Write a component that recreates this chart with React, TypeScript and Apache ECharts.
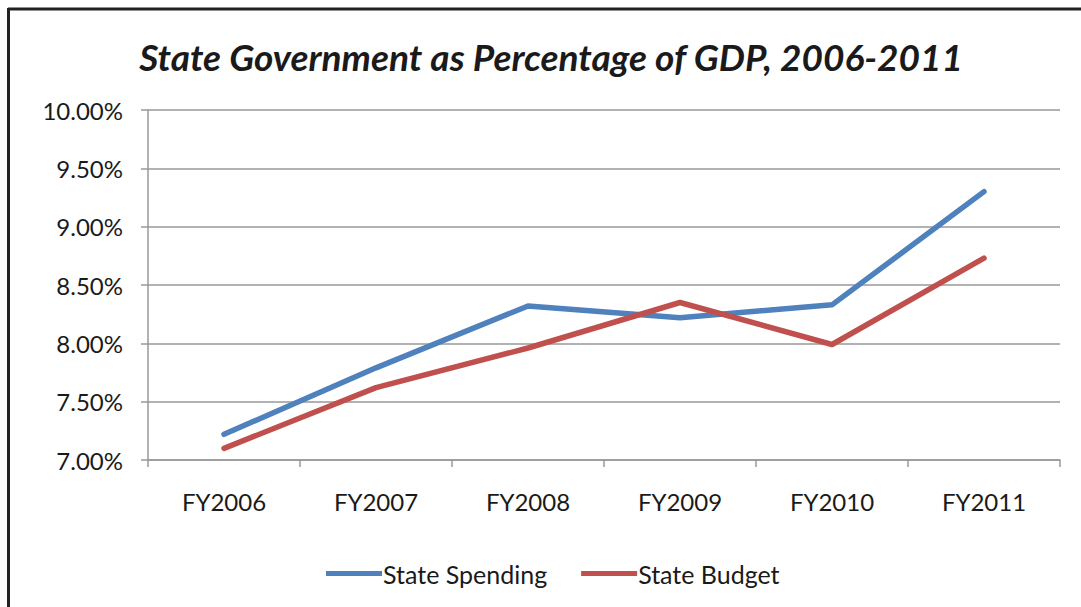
import React, { useEffect, useRef } from "react";
import * as echarts from "echarts";

const categories = ["FY2006", "FY2007", "FY2008", "FY2009", "FY2010", "FY2011"];
const stateSpending = [7.22, 7.79, 8.32, 8.22, 8.33, 9.3];
const stateBudget = [7.1, 7.62, 7.96, 8.35, 7.99, 8.73];
const yTicks = { min: 7, max: 10, interval: 0.5 };

const FONT = "Lato";

export default function App() {
  const ref = useRef<HTMLDivElement>(null);
  useEffect(() => {
    if (!ref.current) return;
    const chart = echarts.init(ref.current, null, { renderer: "svg" });
    chart.setOption({
      animation: false,
      backgroundColor: "#ffffff",
      title: {
        text: "State Government as Percentage of GDP, 2006-2011",
        left: 546,
        textAlign: "center",
        top: 33,
        textStyle: {
          fontFamily: FONT,
          fontSize: 37,
          fontWeight: "bold",
          fontStyle: "italic",
          color: "#1a1a1a",
        },
      },
      grid: { left: 148, right: 21, top: 110, bottom: 147 },
      legend: {
        bottom: 16,
        left: 553,
        align: "left",
        icon: "rect",
        itemWidth: 56,
        itemHeight: 5,
        itemGap: 34,
        textStyle: { fontFamily: FONT, fontSize: 25, color: "#1a1a1a", padding: [0, 0, 0, -4] },
        data: ["State Spending", "State Budget"],
      },
      xAxis: {
        type: "category",
        data: categories,
        boundaryGap: true,
        axisLine: { lineStyle: { color: "#999999", width: 1.5 } },
        axisTick: { show: true, length: 7, interval: 0, lineStyle: { color: "#999999", width: 1.5 } },
        axisLabel: { fontFamily: FONT, fontSize: 24, color: "#1a1a1a", margin: 29 },
      },
      yAxis: {
        type: "value",
        min: yTicks.min,
        max: yTicks.max,
        interval: yTicks.interval,
        axisLine: { show: true, lineStyle: { color: "#999999", width: 1.5 } },
        axisTick: { show: true, length: 7, lineStyle: { color: "#999999", width: 1.5 } },
        splitLine: { lineStyle: { color: "#999999", width: 1.5 } },
        axisLabel: {
          fontFamily: FONT,
          fontSize: 24,
          color: "#1a1a1a",
          margin: 25,
          formatter: (v: number) => v.toFixed(2) + "%",
        },
      },
      series: [
        {
          name: "State Spending",
          type: "line",
          data: stateSpending,
          symbol: "none",
          lineStyle: { color: "#4F81BD", width: 5.5, cap: "round", join: "round" },
          itemStyle: { color: "#4F81BD" },
        },
        {
          name: "State Budget",
          type: "line",
          data: stateBudget,
          symbol: "none",
          lineStyle: { color: "#C0504D", width: 5.5, cap: "round", join: "round" },
          itemStyle: { color: "#C0504D" },
        },
      ],
      graphic: [
        { type: "line", shape: { x1: 8, y1: 9, x2: 1081, y2: 9 }, style: { stroke: "#222222", lineWidth: 3 } },
        { type: "line", shape: { x1: 8.5, y1: 8, x2: 8.5, y2: 607 }, style: { stroke: "#222222", lineWidth: 3 } },
      ],
    });
    // center legend horizontally around x=553
    const legendModel: any = (chart as any).getModel().getComponent("legend");
    const view: any = legendModel && (chart as any).getViewOfComponentModel(legendModel);
    if (view && view.group) {
      const rect = view.group.getBoundingRect();
      chart.setOption({ legend: { left: Math.round(553 - rect.width / 2) } });
    }
    return () => chart.dispose();
  }, []);
  return (
    <div
      ref={ref}
      style={{ position: "absolute", left: 0, top: 0, width: 1081, height: 607 }}
    />
  );
}
